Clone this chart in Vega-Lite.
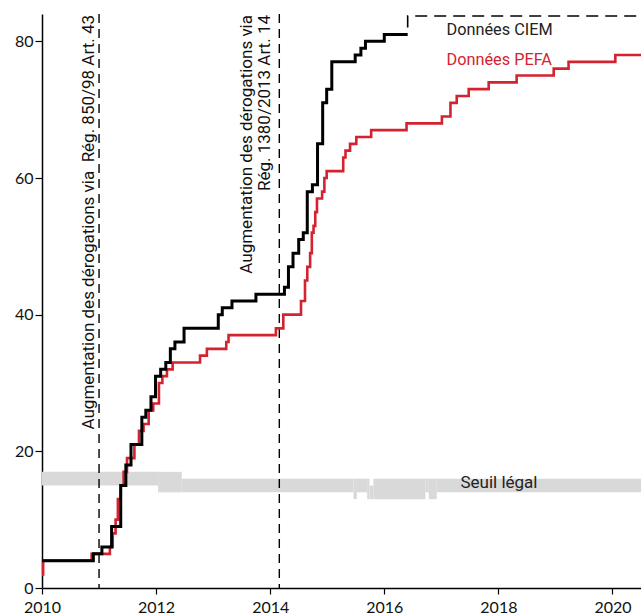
{
  "$schema": "https://vega.github.io/schema/vega-lite/v6.json",
  "width": 599,
  "height": 574,
  "autosize": {"type": "none"},
  "padding": {"left": 42, "top": 14, "right": 0, "bottom": 26},
  "background": "white",
  "config": {
    "view": {"stroke": null},
    "axis": {
      "grid": false, "domainColor": "#000", "domainWidth": 1.5, "tickColor": "#000", "tickWidth": 1.2,
      "labelFont": "Lato", "labelFontSize": 16, "labelColor": "#111", "labelFlush": false
    },
    "axisX": {"tickSize": 6, "labelPadding": 5},
    "axisY": {"tickSize": 7, "labelPadding": 2}
  },
  "datasets": {
    "series": [
      {"serie": "CIEM", "annee": 2010.0, "valeur": 4},
      {"serie": "CIEM", "annee": 2010.9, "valeur": 5},
      {"serie": "CIEM", "annee": 2011.05, "valeur": 6},
      {"serie": "CIEM", "annee": 2011.22, "valeur": 9},
      {"serie": "CIEM", "annee": 2011.38, "valeur": 15},
      {"serie": "CIEM", "annee": 2011.47, "valeur": 18},
      {"serie": "CIEM", "annee": 2011.56, "valeur": 21},
      {"serie": "CIEM", "annee": 2011.75, "valeur": 25},
      {"serie": "CIEM", "annee": 2011.82, "valeur": 26},
      {"serie": "CIEM", "annee": 2011.91, "valeur": 28},
      {"serie": "CIEM", "annee": 2011.99, "valeur": 31},
      {"serie": "CIEM", "annee": 2012.08, "valeur": 32},
      {"serie": "CIEM", "annee": 2012.17, "valeur": 33},
      {"serie": "CIEM", "annee": 2012.25, "valeur": 35},
      {"serie": "CIEM", "annee": 2012.33, "valeur": 36},
      {"serie": "CIEM", "annee": 2012.49, "valeur": 38},
      {"serie": "CIEM", "annee": 2013.09, "valeur": 40},
      {"serie": "CIEM", "annee": 2013.16, "valeur": 41},
      {"serie": "CIEM", "annee": 2013.33, "valeur": 42},
      {"serie": "CIEM", "annee": 2013.75, "valeur": 43},
      {"serie": "CIEM", "annee": 2014.25, "valeur": 44},
      {"serie": "CIEM", "annee": 2014.32, "valeur": 47},
      {"serie": "CIEM", "annee": 2014.4, "valeur": 49},
      {"serie": "CIEM", "annee": 2014.5, "valeur": 51},
      {"serie": "CIEM", "annee": 2014.58, "valeur": 52},
      {"serie": "CIEM", "annee": 2014.65, "valeur": 58},
      {"serie": "CIEM", "annee": 2014.74, "valeur": 59},
      {"serie": "CIEM", "annee": 2014.83, "valeur": 65},
      {"serie": "CIEM", "annee": 2014.92, "valeur": 71},
      {"serie": "CIEM", "annee": 2014.99, "valeur": 73},
      {"serie": "CIEM", "annee": 2015.08, "valeur": 77},
      {"serie": "CIEM", "annee": 2015.49, "valeur": 78},
      {"serie": "CIEM", "annee": 2015.59, "valeur": 79},
      {"serie": "CIEM", "annee": 2015.67, "valeur": 80},
      {"serie": "CIEM", "annee": 2016.0, "valeur": 81},
      {"serie": "CIEM", "annee": 2016.41, "valeur": 81},
      {"serie": "PEFA", "annee": 2010.0, "valeur": 2},
      {"serie": "PEFA", "annee": 2010.02, "valeur": 4},
      {"serie": "PEFA", "annee": 2010.87, "valeur": 5},
      {"serie": "PEFA", "annee": 2011.19, "valeur": 6},
      {"serie": "PEFA", "annee": 2011.24, "valeur": 8},
      {"serie": "PEFA", "annee": 2011.29, "valeur": 10},
      {"serie": "PEFA", "annee": 2011.33, "valeur": 13},
      {"serie": "PEFA", "annee": 2011.38, "valeur": 15},
      {"serie": "PEFA", "annee": 2011.43, "valeur": 17},
      {"serie": "PEFA", "annee": 2011.49, "valeur": 19},
      {"serie": "PEFA", "annee": 2011.62, "valeur": 21},
      {"serie": "PEFA", "annee": 2011.7, "valeur": 23},
      {"serie": "PEFA", "annee": 2011.78, "valeur": 24},
      {"serie": "PEFA", "annee": 2011.87, "valeur": 26},
      {"serie": "PEFA", "annee": 2011.95, "valeur": 27},
      {"serie": "PEFA", "annee": 2012.05, "valeur": 30},
      {"serie": "PEFA", "annee": 2012.11, "valeur": 31},
      {"serie": "PEFA", "annee": 2012.19, "valeur": 32},
      {"serie": "PEFA", "annee": 2012.29, "valeur": 33},
      {"serie": "PEFA", "annee": 2012.77, "valeur": 34},
      {"serie": "PEFA", "annee": 2012.89, "valeur": 35},
      {"serie": "PEFA", "annee": 2013.23, "valeur": 36},
      {"serie": "PEFA", "annee": 2013.27, "valeur": 37},
      {"serie": "PEFA", "annee": 2014.1, "valeur": 38},
      {"serie": "PEFA", "annee": 2014.23, "valeur": 40},
      {"serie": "PEFA", "annee": 2014.54, "valeur": 42},
      {"serie": "PEFA", "annee": 2014.61, "valeur": 45},
      {"serie": "PEFA", "annee": 2014.65, "valeur": 47},
      {"serie": "PEFA", "annee": 2014.7, "valeur": 49},
      {"serie": "PEFA", "annee": 2014.73, "valeur": 52},
      {"serie": "PEFA", "annee": 2014.76, "valeur": 53},
      {"serie": "PEFA", "annee": 2014.79, "valeur": 55},
      {"serie": "PEFA", "annee": 2014.82, "valeur": 57},
      {"serie": "PEFA", "annee": 2014.91, "valeur": 58},
      {"serie": "PEFA", "annee": 2014.95, "valeur": 60},
      {"serie": "PEFA", "annee": 2014.99, "valeur": 61},
      {"serie": "PEFA", "annee": 2015.28, "valeur": 63},
      {"serie": "PEFA", "annee": 2015.32, "valeur": 64},
      {"serie": "PEFA", "annee": 2015.4, "valeur": 65},
      {"serie": "PEFA", "annee": 2015.51, "valeur": 66},
      {"serie": "PEFA", "annee": 2015.77, "valeur": 67},
      {"serie": "PEFA", "annee": 2016.39, "valeur": 68},
      {"serie": "PEFA", "annee": 2017.01, "valeur": 69},
      {"serie": "PEFA", "annee": 2017.16, "valeur": 71},
      {"serie": "PEFA", "annee": 2017.27, "valeur": 72},
      {"serie": "PEFA", "annee": 2017.48, "valeur": 73},
      {"serie": "PEFA", "annee": 2017.83, "valeur": 74},
      {"serie": "PEFA", "annee": 2018.32, "valeur": 75},
      {"serie": "PEFA", "annee": 2018.97, "valeur": 76},
      {"serie": "PEFA", "annee": 2019.23, "valeur": 77},
      {"serie": "PEFA", "annee": 2020.05, "valeur": 78},
      {"serie": "PEFA", "annee": 2020.5, "valeur": 78}
    ],
    "suite": [
      {"annee": 2016.41, "valeur": 81},
      {"annee": 2020.5, "valeur": 83.7}
    ],
    "seuil": [
      {"debut": 2010.0, "fin": 2012.035, "bas": 15, "haut": 17},
      {"debut": 2012.035, "fin": 2012.45, "bas": 14, "haut": 17},
      {"debut": 2012.45, "fin": 2015.46, "bas": 14, "haut": 16},
      {"debut": 2015.46, "fin": 2015.52, "bas": 13, "haut": 16},
      {"debut": 2015.52, "fin": 2015.7, "bas": 14, "haut": 16},
      {"debut": 2015.7, "fin": 2015.74, "bas": 13, "haut": 16},
      {"debut": 2015.74, "fin": 2015.81, "bas": 13, "haut": 15},
      {"debut": 2015.81, "fin": 2016.72, "bas": 13, "haut": 16},
      {"debut": 2016.72, "fin": 2016.78, "bas": 14, "haut": 16},
      {"debut": 2016.78, "fin": 2016.92, "bas": 13, "haut": 16},
      {"debut": 2016.92, "fin": 2020.5, "bas": 14, "haut": 16}
    ],
    "evenements": [
      {"annee": 2011.0},
      {"annee": 2014.16}
    ]
  },
  "layer": [
    {
      "data": {"name": "seuil"},
      "mark": {"type": "rect", "color": "#d9d9d9"},
      "encoding": {
        "x": {
          "field": "debut", "type": "quantitative", "title": null,
          "scale": {"domain": [2010, 2020.5], "nice": false, "zero": false},
          "axis": {"values": [2010, 2012, 2014, 2016, 2018, 2020], "format": "d"}
        },
        "x2": {"field": "fin"},
        "y": {
          "field": "bas", "type": "quantitative", "title": null,
          "scale": {"domain": [0, 84], "nice": false},
          "axis": {"values": [0, 20, 40, 60, 80], "format": "d"}
        },
        "y2": {"field": "haut"}
      }
    },
    {
      "data": {"name": "evenements"},
      "mark": {"type": "rule", "color": "#000", "strokeWidth": 1.4, "strokeDash": [9, 6]},
      "encoding": {
        "x": {"field": "annee", "type": "quantitative", "title": null, "axis": {"values": [2010, 2012, 2014, 2016, 2018, 2020], "format": "d"}}
      }
    },
    {
      "data": {"name": "series"},
      "transform": [{"filter": "datum.serie === 'PEFA'"}],
      "mark": {"type": "line", "interpolate": "step-after", "color": "#d42330", "strokeWidth": 2.6},
      "encoding": {
        "x": {"field": "annee", "type": "quantitative", "title": null, "axis": {"values": [2010, 2012, 2014, 2016, 2018, 2020], "format": "d"}},
        "y": {"field": "valeur", "type": "quantitative", "title": null, "axis": {"values": [0, 20, 40, 60, 80], "format": "d"}}
      }
    },
    {
      "data": {"name": "series"},
      "transform": [{"filter": "datum.serie === 'CIEM'"}],
      "mark": {"type": "line", "interpolate": "step-after", "color": "#000", "strokeWidth": 3},
      "encoding": {
        "x": {"field": "annee", "type": "quantitative", "title": null, "axis": {"values": [2010, 2012, 2014, 2016, 2018, 2020], "format": "d"}},
        "y": {"field": "valeur", "type": "quantitative", "title": null, "axis": {"values": [0, 20, 40, 60, 80], "format": "d"}}
      }
    },
    {
      "data": {"name": "suite"},
      "mark": {"type": "line", "interpolate": "step-before", "color": "#000", "strokeWidth": 1.6, "strokeDash": [12, 7], "strokeDashOffset": 12},
      "encoding": {
        "x": {"field": "annee", "type": "quantitative", "title": null, "axis": {"values": [2010, 2012, 2014, 2016, 2018, 2020], "format": "d"}},
        "y": {"field": "valeur", "type": "quantitative", "title": null, "axis": {"values": [0, 20, 40, 60, 80], "format": "d"}}
      }
    },
    {
      "data": {"values": [{"annee": 2011.0, "valeur": 84, "texte": "Augmentation des dérogations via\u00a0 Rég. 850/98 Art. 43"}]},
      "mark": {"type": "text", "angle": 270, "align": "right", "baseline": "alphabetic", "dy": -5, "dx": -1, "font": "Roboto", "fontSize": 17, "color": "#111"},
      "encoding": {
        "x": {"field": "annee", "type": "quantitative", "title": null, "axis": {"values": [2010, 2012, 2014, 2016, 2018, 2020], "format": "d"}},
        "y": {"field": "valeur", "type": "quantitative", "title": null, "axis": {"values": [0, 20, 40, 60, 80], "format": "d"}},
        "text": {"field": "texte"}
      }
    },
    {
      "data": {"values": [{"annee": 2014.16, "valeur": 84, "texte": "Augmentation des dérogations via\nRég. 1380/2013 Art. 14"}]},
      "mark": {"type": "text", "angle": 270, "align": "right", "baseline": "alphabetic", "dy": -27, "dx": -1, "lineBreak": "\n", "lineHeight": 18, "font": "Roboto", "fontSize": 17, "color": "#111"},
      "encoding": {
        "x": {"field": "annee", "type": "quantitative", "title": null, "axis": {"values": [2010, 2012, 2014, 2016, 2018, 2020], "format": "d"}},
        "y": {"field": "valeur", "type": "quantitative", "title": null, "axis": {"values": [0, 20, 40, 60, 80], "format": "d"}},
        "text": {"field": "texte"}
      }
    },
    {
      "data": {"values": [
        {"annee": 2017.09, "valeur": 81.7, "texte": "Données CIEM", "serie": "CIEM"},
        {"annee": 2017.09, "valeur": 77.2, "texte": "Données PEFA", "serie": "PEFA"}
      ]},
      "mark": {"type": "text", "align": "left", "baseline": "middle", "font": "Roboto", "fontSize": 16.3},
      "encoding": {
        "x": {"field": "annee", "type": "quantitative", "title": null, "axis": {"values": [2010, 2012, 2014, 2016, 2018, 2020], "format": "d"}},
        "y": {"field": "valeur", "type": "quantitative", "title": null, "axis": {"values": [0, 20, 40, 60, 80], "format": "d"}},
        "text": {"field": "texte"},
        "color": {"field": "serie", "type": "nominal", "scale": {"domain": ["CIEM", "PEFA"], "range": ["#222222", "#d42330"]}, "legend": null}
      }
    },
    {
      "data": {"values": [{"annee": 2018.01, "valeur": 15.4, "texte": "Seuil légal"}]},
      "mark": {"type": "text", "align": "center", "baseline": "middle", "font": "Roboto", "fontSize": 17, "color": "#222"},
      "encoding": {
        "x": {"field": "annee", "type": "quantitative", "title": null, "axis": {"values": [2010, 2012, 2014, 2016, 2018, 2020], "format": "d"}},
        "y": {"field": "valeur", "type": "quantitative", "title": null, "axis": {"values": [0, 20, 40, 60, 80], "format": "d"}},
        "text": {"field": "texte"}
      }
    }
  ]
}
